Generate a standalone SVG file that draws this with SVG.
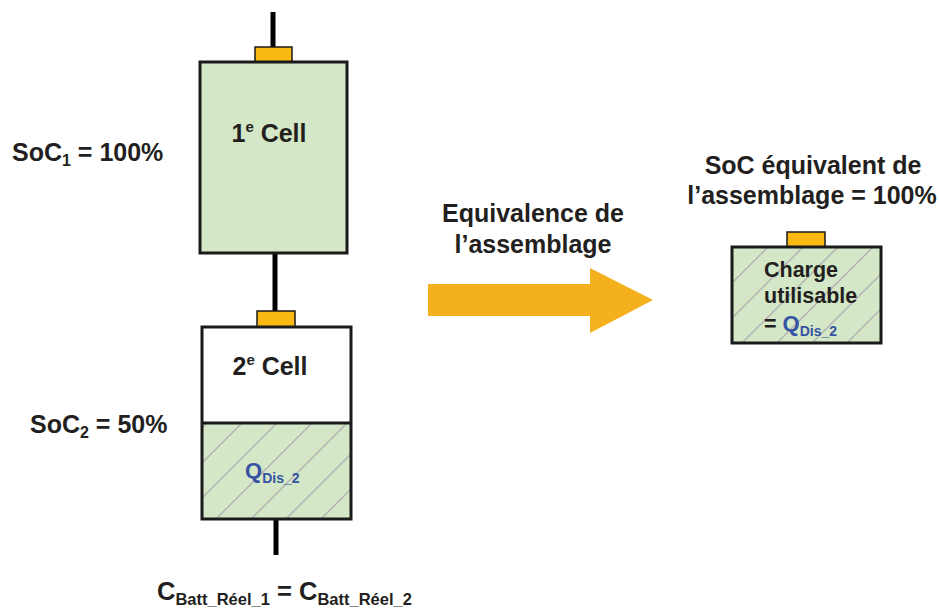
<svg xmlns="http://www.w3.org/2000/svg" width="939" height="609" viewBox="0 0 939 609">
<style>
text{font-family:"Liberation Sans",Arial,sans-serif;font-weight:bold;fill:#231f20}
.t{font-size:25px}
.q{fill:#3553a3}
.cell{stroke:#1a1a1a;stroke-width:3}
.tab{fill:#fbb914;stroke:#1a1a1a;stroke-width:1.5}
.wire{stroke:#000;stroke-width:5}
</style>
<defs>
<pattern id="hatch" patternUnits="userSpaceOnUse" width="35" height="35">
<rect width="35" height="35" fill="#d4e7c6"/>
<path d="M-2,2 L2,-2 M0,35 L35,0 M33,37 L37,33" stroke="#b3b3b3" stroke-width="1.5"/>
</pattern>
</defs>
<rect width="939" height="609" fill="#fff"/>
<g id="connectors">
<line class="wire" x1="273" y1="12" x2="273" y2="48"/>
<line class="wire" x1="275" y1="253" x2="275" y2="312"/>
<line class="wire" x1="276" y1="519" x2="276" y2="555"/>
</g>
<g id="cell1">
<rect class="tab" x="255" y="47" width="37" height="15"/>
<rect class="cell" x="200" y="62" width="147" height="191" fill="#d4e7c6"/>
<text class="t" x="269" y="142" text-anchor="middle">1<tspan font-size="15" dy="-10">e</tspan><tspan dy="10"> Cell</tspan></text>
</g>
<g id="cell2">
<rect class="tab" x="257" y="311" width="38" height="16"/>
<rect x="202" y="423" width="149" height="96" fill="url(#hatch)"/>
<rect class="cell" x="202" y="327" width="149" height="192" fill="none"/>
<line class="cell" x1="202" y1="423" x2="351" y2="423"/>
<text class="t" x="270" y="375" text-anchor="middle">2<tspan font-size="15" dy="-10">e</tspan><tspan dy="10"> Cell</tspan></text>
<text class="q" x="245" y="478" font-size="22">Q<tspan font-size="14" dy="5">Dis_2</tspan></text>
</g>
<g id="soc1">
<text class="t" x="12" y="161">SoC<tspan font-size="16" dy="5">1</tspan><tspan dy="-5"> = 100%</tspan></text>
</g>
<g id="soc2">
<text class="t" x="30" y="433">SoC<tspan font-size="16" dy="5">2</tspan><tspan dy="-5"> = 50%</tspan></text>
</g>
<g id="capacity">
<text x="157" y="600" font-size="25.5">C<tspan font-size="16.5" dy="5">Batt_Réel_1</tspan><tspan dy="-5"> = C</tspan><tspan font-size="16.5" dy="5">Batt_Réel_2</tspan></text>
</g>
<g id="arrow">
<polygon points="428,284 590,284 590,268 653,300 590,333 590,316 428,316" fill="#f5b01e"/>
<text class="t" x="533" y="222" text-anchor="middle">Equivalence de</text>
<text class="t" x="533" y="253" text-anchor="middle">l’assemblage</text>
</g>
<g id="equivalent">
<text class="t" x="813" y="174" text-anchor="middle">SoC équivalent de</text>
<text class="t" x="812" y="204" text-anchor="middle">l’assemblage = 100%</text>
<rect class="tab" x="787" y="232" width="38" height="15"/>
<rect class="cell" x="732" y="247" width="149" height="96" fill="url(#hatch)"/>
<text x="764" y="277" font-size="21.5">Charge</text>
<text x="764" y="303" font-size="21.5">utilisable</text>
<text x="764" y="331" font-size="21.5">= <tspan class="q" font-size="22">Q</tspan><tspan class="q" font-size="14" dy="5">Dis_2</tspan></text>
</g>
</svg>
